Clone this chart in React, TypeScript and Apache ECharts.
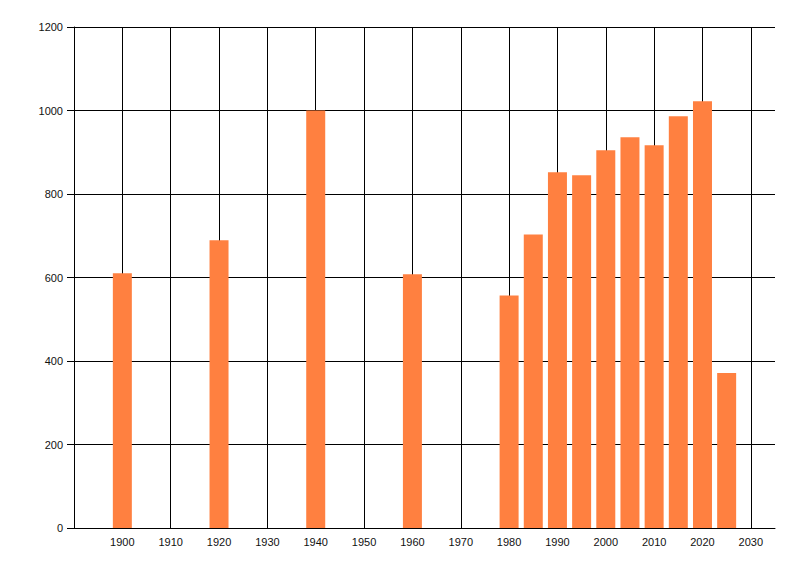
import React, { useEffect, useRef } from "react";
import * as echarts from "echarts";

const years = [1900, 1920, 1940, 1960, 1980, 1985, 1990, 1995, 2000, 2005, 2010, 2015, 2020, 2025];
const values = [610, 689, 1000, 608, 557, 703, 852, 845, 905, 936, 917, 986, 1022, 371];
const xMin = 1890;
const xMax = 2035;
const yMax = 1200;

export default function App() {
  const ref = useRef<HTMLDivElement>(null);
  useEffect(() => {
    if (!ref.current) return;
    const chart = echarts.init(ref.current, null, { renderer: "svg" });
    const font = "'Liberation Sans', Arial, sans-serif";
    chart.setOption({
      animation: false,
      backgroundColor: "#ffffff",
      grid: { left: 74, right: 25, top: 27, bottom: 48, containLabel: false },
      xAxis: {
        type: "value",
        min: xMin,
        max: xMax,
        interval: 10,
        axisLine: { show: true, lineStyle: { color: "#000", width: 1 } },
        axisTick: { show: false },
        axisLabel: {
          color: "#111",
          fontSize: 11,
          fontFamily: font,
          margin: 8,
          showMinLabel: false,
          showMaxLabel: false,
          formatter: (v: number) => (v % 10 === 0 && v > xMin ? String(v) : ""),
        },
        splitLine: { show: true, showMinLine: false, showMaxLine: false, lineStyle: { color: "#000", width: 1 } },
      },
      yAxis: {
        type: "value",
        min: 0,
        max: yMax,
        interval: 200,
        axisLine: { show: true, lineStyle: { color: "#000", width: 1 } },
        axisTick: { show: true, length: 7, lineStyle: { color: "#000" } },
        axisLabel: {
          color: "#111",
          fontSize: 11,
          fontFamily: font,
          margin: 11,
          formatter: (v: number) => String(v),
        },
        splitLine: { show: true, lineStyle: { color: "#000", width: 1 } },
      },
      series: [
        {
          type: "bar",
          barWidth: 19,
          data: years.map((y, i) => [y, values[i]]),
          itemStyle: { color: "#FF8040" },
        },
      ],
    });
    return () => chart.dispose();
  }, []);
  return (
    <div
      ref={ref}
      style={{ position: "absolute", left: 0, top: 0, width: 800, height: 576 }}
    />
  );
}
